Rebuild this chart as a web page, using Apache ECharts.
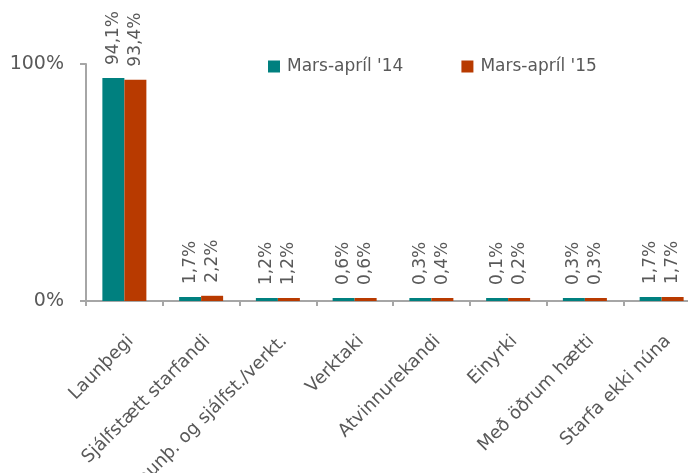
<!DOCTYPE html>
<html><head><meta charset="utf-8">
<script src="https://cdn.jsdelivr.net/npm/echarts@6/dist/echarts.min.js"></script>
<style>html,body{margin:0;padding:0;background:#fff}#c{width:688px;height:473px}</style>
</head><body><div id="c"></div>
<script>
const categories = ["Launþegi","Sjálfstætt starfandi","Launþ. og sjálfst./verkt.","Verktaki","Atvinnurekandi","Einyrki","Með öðrum hætti","Starfa ekki núna"];
const series14 = [94.1,1.7,1.2,0.6,0.3,0.1,0.3,1.7];
const series15 = [93.4,2.2,1.2,0.6,0.4,0.2,0.3,1.7];
const seriesNames = ["Mars-apríl '14","Mars-apríl '15"];
const yTicks = [0,100];

const FONT = 'DejaVu Sans';
const TXT = '#595959';
const AX = '#a6a6a6';
const fmt = v => v.toFixed(1).replace('.', ',') + '%';
const lbl = {
  show: true, position: 'top', rotate: 90, align: 'left', verticalAlign: 'middle',
  distance: 13, color: TXT, fontFamily: FONT, fontSize: 17,
  formatter: p => fmt(p.value)
};
const chart = echarts.init(document.getElementById('c'), null, {renderer: 'canvas'});
chart.setOption({
  animation: false,
  textStyle: {fontFamily: FONT},
  legend: {
    left: 268, top: 58, padding: 0, itemWidth: 12, itemHeight: 12, itemGap: 58,
    icon: 'rect',
    textStyle: {color: TXT, fontSize: 17, fontFamily: FONT, padding: [0,0,0,2]},
    data: seriesNames
  },
  grid: {left: 86, top: 64, width: 614, height: 237, containLabel: false, outerBoundsMode: 'none'},
  xAxis: {
    type: 'category', data: categories, boundaryGap: true,
    axisLine: {lineStyle: {color: AX, width: 2}},
    axisTick: {show: true, length: 5, lineStyle: {color: AX, width: 2}},
    axisLabel: {rotate: 45, margin: 31, verticalAlign: 'top', color: TXT, fontSize: 18, fontFamily: FONT, interval: 0}
  },
  yAxis: {
    type: 'value', min: yTicks[0], max: yTicks[1], interval: 100,
    axisLine: {show: true, lineStyle: {color: AX, width: 2}},
    axisTick: {show: true, length: 6, lineStyle: {color: AX, width: 2}},
    splitLine: {show: false},
    axisLabel: {margin: 22, color: TXT, fontSize: 19, fontFamily: FONT, formatter: '{value}%'}
  },
  series: [
    {name: seriesNames[0], type: 'bar', data: series14, barWidth: 22, barGap: '0%', barMinHeight: 3,
     itemStyle: {color: '#00807f'}, label: lbl},
    {name: seriesNames[1], type: 'bar', data: series15, barWidth: 22, barGap: '0%', barMinHeight: 3,
     itemStyle: {color: '#b83a00'}, label: lbl}
  ]
});
</script></body></html>
